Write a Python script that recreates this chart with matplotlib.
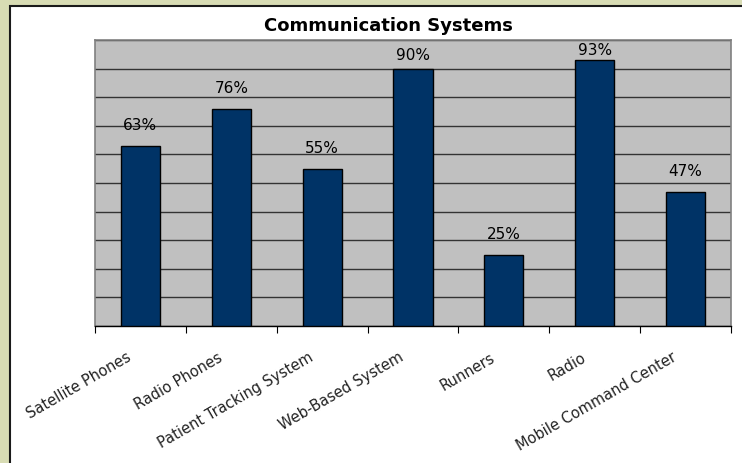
import matplotlib.pyplot as plt
import matplotlib.transforms as mtransforms
from matplotlib.patches import Rectangle
import numpy as np

categories = ["Satellite Phones", "Radio Phones", "Patient Tracking System",
              "Web-Based System", "Runners", "Radio", "Mobile Command Center"]
values = [63, 76, 55, 90, 25, 93, 47]
value_labels = ["63%", "76%", "55%", "90%", "25%", "93%", "47%"]

plt.rcParams['font.family'] = ['DejaVu Sans']

fig = plt.figure(figsize=(7.42, 4.64), dpi=100)
fig.patch.set_facecolor('#D8DCB4')

# white panel with black frame on left and top
panel = Rectangle((10 / 742, -0.1), 1.0, 1 - 7 / 464 + 0.1, transform=fig.transFigure,
                  facecolor='white', edgecolor='#1a1a1a', linewidth=1.5, zorder=-10)
fig.patches.append(panel)

ax = fig.add_axes([95 / 742, 1 - 327 / 464, (731 - 95) / 742, (327 - 41) / 464])
ax.set_zorder(1)
ax.set_facecolor('#C0C0C0')

x = np.arange(len(categories))
bars = ax.bar(x, values, width=0.43, color='#003366', edgecolor='black', linewidth=1, zorder=3)

# labels sit above bars, squeezed down near the top of the plot area
for xi, v, lab in zip(x, values, value_labels):
    y = min(v + 4.7, 92.3 + (v - 90) * 0.6)
    ax.text(xi, y, lab, ha='center', va='bottom', fontsize=11, color='black', zorder=4)

ax.set_xlim(-0.5, len(categories) - 0.5)
ax.set_ylim(0, 100)
ax.set_yticks(np.arange(0, 101, 10))
ax.set_yticklabels([])
ax.tick_params(axis='y', length=0)
ax.yaxis.grid(True, color='#333333', linewidth=1)
ax.set_axisbelow(True)

# major ticks at category boundaries, labels at centers
ax.set_xticks(np.arange(-0.5, len(categories), 1.0))
ax.set_xticklabels([])
ax.tick_params(axis='x', which='major', length=5, direction='out', color='black')
ax.set_xticks(x, minor=True)
ax.set_xticklabels(categories, minor=True, rotation=30, ha='right', va='baseline',
                   rotation_mode='anchor', fontsize=10.5, color='#222222')
ax.tick_params(axis='x', which='minor', length=0, pad=24)
offset = mtransforms.ScaledTranslation(-8 / 100, 0, fig.dpi_scale_trans)
for lbl in ax.get_xticklabels(minor=True):
    lbl.set_transform(lbl.get_transform() + offset)

for side in ['top', 'left', 'right']:
    ax.spines[side].set_color('#808080')
    ax.spines[side].set_linewidth(1.2)
ax.spines['bottom'].set_color('black')
ax.spines['bottom'].set_linewidth(1)

fig.text(388 / 742, 1 - 26 / 464, "Communication Systems", ha='center', va='center',
         fontsize=13, fontweight='bold', color='black')

fig.savefig('out.png', dpi=100, facecolor=fig.get_facecolor())
